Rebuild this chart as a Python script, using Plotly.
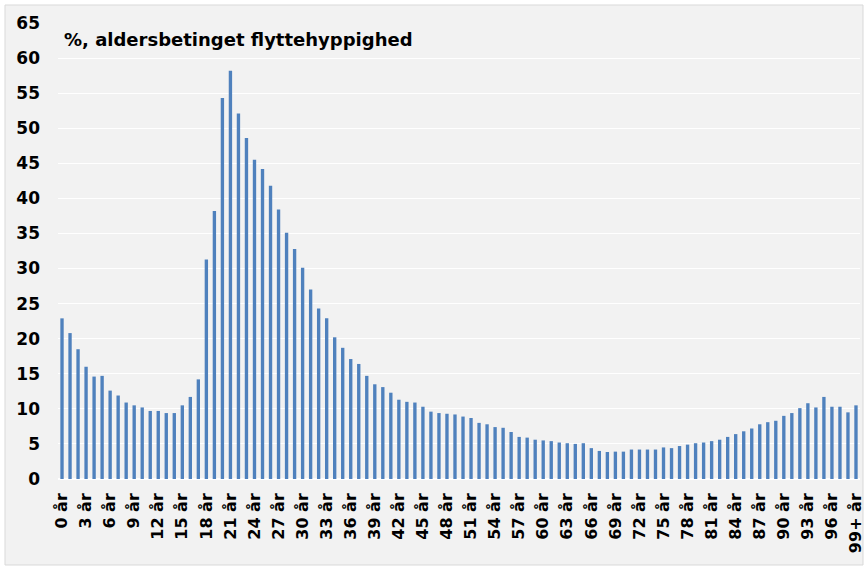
import plotly.graph_objects as go

ages = [f"{i} år" for i in range(99)] + ["99+ år"]
values = [
    22.9, 20.8, 18.5, 16.0, 14.6, 14.7, 12.6, 11.9, 10.9, 10.5,
    10.2, 9.7, 9.7, 9.4, 9.4, 10.5, 11.7, 14.2, 31.3, 38.2,
    54.3, 58.2, 52.1, 48.6, 45.5, 44.2, 41.8, 38.4, 35.1, 32.8,
    30.1, 27.0, 24.3, 22.9, 20.2, 18.7, 17.1, 16.4, 14.7, 13.5,
    13.1, 12.3, 11.3, 11.0, 10.9, 10.3, 9.6, 9.4, 9.3, 9.2,
    8.9, 8.7, 8.0, 7.8, 7.4, 7.3, 6.7, 6.0, 5.9, 5.6,
    5.5, 5.4, 5.2, 5.1, 5.0, 5.1, 4.4, 4.0, 3.85, 3.9,
    3.9, 4.2, 4.2, 4.2, 4.2, 4.5, 4.4, 4.7, 4.9, 5.1,
    5.2, 5.4, 5.6, 6.0, 6.4, 6.8, 7.2, 7.8, 8.1, 8.3,
    9.0, 9.4, 10.1, 10.8, 10.2, 11.7, 10.3, 10.3, 9.5, 10.5,
]
tick_labels = [ages[i] for i in range(0, 100, 3)] + [ages[99]]
y_ticks = list(range(0, 70, 5))
title_text = "%, aldersbetinget flyttehyppighed"

FONT = "DejaVu Sans"
W, H = 864, 567
ml, mr, mt, mb = 58, 4, 23, 88
pw, ph = W - ml - mr, H - mt - mb

fig = go.Figure(go.Bar(
    x=ages, y=values,
    marker=dict(color="#4f81bd", line=dict(width=0)),
))

fig.update_layout(
    width=W, height=H,
    margin=dict(l=ml, r=mr, t=mt, b=mb, autoexpand=False),
    paper_bgcolor="white",
    plot_bgcolor="#f2f2f2",
    bargap=0.58,
    showlegend=False,
    font=dict(family=FONT, color="black"),
    xaxis=dict(
        type="category",
        tickmode="array",
        tickvals=tick_labels,
        ticktext=tick_labels,
        tickangle=-90,
        tickfont=dict(family=FONT, size=16, color="black", weight="bold"),
        showgrid=False,
        showline=False,
        ticks="",
        ticklabelstandoff=10,
        automargin=False,
        range=[-0.5, 99.5],
    ),
    yaxis=dict(
        range=[0, 65],
        tickvals=y_ticks,
        tickfont=dict(family=FONT, size=17, color="black", weight="bold"),
        gridcolor="white",
        gridwidth=1,
        zeroline=True,
        zerolinecolor="white",
        showline=False,
        ticks="",
        ticklabelstandoff=17,
        automargin=False,
    ),
    shapes=[dict(
        type="rect", xref="paper", yref="paper",
        x0=(5 - ml) / pw, x1=(W - 1 - ml) / pw,
        y0=-(H - 2 - mt - ph) / ph, y1=1 + (mt - 5) / ph,
        fillcolor="#f2f2f2", line=dict(color="#d9d9d9", width=1),
        layer="below",
    )],
    annotations=[dict(
        text=title_text, xref="paper", yref="paper",
        x=(62 - ml) / pw, y=1 - (40 - mt) / ph,
        xanchor="left", yanchor="middle", showarrow=False,
        font=dict(family=FONT, size=18, color="black", weight="bold"),
    )],
)

fig.write_html(
    "out.html",
    config={"displayModeBar": False},
    post_script="document.body.style.margin='0';document.body.style.overflow='hidden';",
)
